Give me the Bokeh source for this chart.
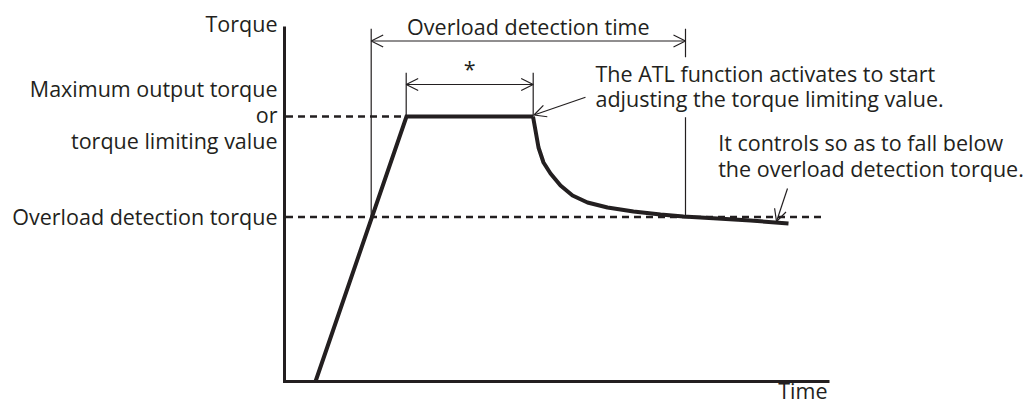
from bokeh.plotting import figure
from bokeh.models import Range1d, Arrow, OpenHead
from bokeh.core.properties import value
from bokeh.embed import file_html
from bokeh.resources import INLINE

# ---- data (time / torque in arbitrary diagram units) ----
MAX_TORQUE = 265
OVERLOAD_TORQUE = 164.5
AXIS_TIME_END = 545
AXIS_TORQUE_END = 355

ramp_time = [31, 122, 248.5]
ramp_torque = [0, MAX_TORQUE, MAX_TORQUE]

decay_time = [248.5, 251, 254, 259, 266, 276, 288, 303, 323, 349, 376, 399, 433, 466, 504]
decay_torque = [265, 251, 234, 219, 208, 196, 186, 179, 174, 170, 167, 165, 163, 161, 158]

detect_start, detect_end = 86.7, 401
plateau_start, plateau_end = 121.7, 248.7
detect_top = 352.7
detect_arrow = 340.5
plateau_top = 308.7
plateau_arrow = 297

left_labels = ["Torque", "Maximum output torque", "or", "torque limiting value",
               "Overload detection torque"]
left_label_torque = [357.7, 292.7, 266.7, 240.7, 165]

C = "#231f20"
FONT = value("Open Sans")
FS = "21.5px"

p = figure(width=1027, height=405, x_range=Range1d(-284, 743), y_range=Range1d(-24, 381),
           min_border=0, outline_line_color=None, toolbar_location=None,
           output_backend="svg", background_fill_color="white")
p.axis.visible = False
p.grid.visible = False

# axes
p.line([0, 0, AXIS_TIME_END], [AXIS_TORQUE_END, 0, 0], line_color=C, line_width=3,
       line_join="miter")

# dashed reference lines
p.line([1.5, plateau_start], [MAX_TORQUE, MAX_TORQUE], line_color=C, line_width=2.5,
       line_dash="7 5")
p.line([1.5, 539], [OVERLOAD_TORQUE, OVERLOAD_TORQUE], line_color=C, line_width=2.5,
       line_dash="7 5")

# bracket lines
p.segment(x0=[detect_start, detect_end, detect_end, plateau_start, plateau_end],
          y0=[OVERLOAD_TORQUE, detect_top, 264.3, MAX_TORQUE, MAX_TORQUE],
          x1=[detect_start, detect_end, detect_end, plateau_start, plateau_end],
          y1=[detect_top, 324.3, OVERLOAD_TORQUE, plateau_top, plateau_top],
          line_color=C, line_width=1.2)

# torque curve
p.line(ramp_time, ramp_torque, line_color=C, line_width=4, line_join="miter")
p.line(decay_time, decay_torque, line_color=C, line_width=4)

def head():
    return OpenHead(size=12, line_width=1.2, line_color=C)

p.add_layout(Arrow(start=head(), end=head(), x_start=detect_start, y_start=detect_arrow,
                   x_end=detect_end, y_end=detect_arrow, line_color=C, line_width=1.2))
p.add_layout(Arrow(start=head(), end=head(), x_start=plateau_start, y_start=plateau_arrow,
                   x_end=plateau_end, y_end=plateau_arrow, line_color=C, line_width=1.2))
p.add_layout(Arrow(end=head(), x_start=301, y_start=284.3, x_end=249.5, y_end=266.5,
                   line_color=C, line_width=1.2))
p.add_layout(Arrow(end=head(), x_start=503, y_start=193, x_end=492, y_end=160,
                   line_color=C, line_width=1.2))

# texts
p.text(x=[-7] * len(left_labels), y=left_label_torque, text=left_labels,
       text_font=FONT, text_font_size=FS, text_align="right", text_baseline="alphabetic",
       text_color=C)
p.text(x=[543], y=[-9], text=["Time"], text_font=FONT, text_font_size=FS,
       text_align="right", text_baseline="alphabetic", text_color=C)
p.text(x=[(detect_start + detect_end) / 2, (plateau_start + plateau_end) / 2],
       y=[355, 313], text=["Overload detection time", "*"], text_font=FONT,
       text_font_size=FS, text_align="center", text_baseline="alphabetic", text_color=C)
p.text(x=[311, 311, 433.7, 433.7], y=[308.3, 283.5, 239.3, 213.3],
       text=["The ATL function activates to start",
             "adjusting the torque limiting value.",
             "It controls so as to fall below",
             "the overload detection torque."],
       text_font=FONT, text_font_size=FS, text_align="left", text_baseline="alphabetic",
       text_color=C)

open("out.html", "w").write(file_html(p, INLINE))
